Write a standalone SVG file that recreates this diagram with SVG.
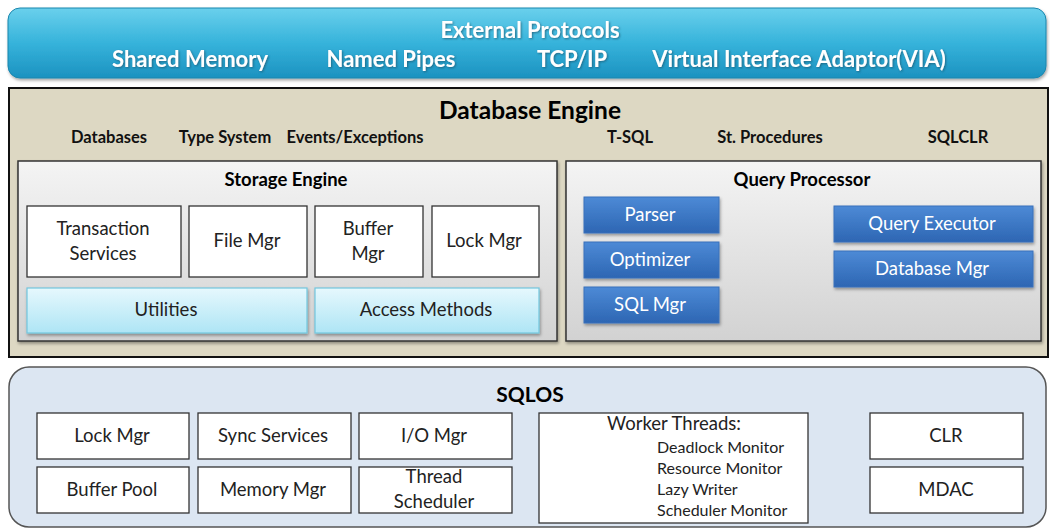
<svg xmlns="http://www.w3.org/2000/svg" width="1050" height="529" viewBox="0 0 1050 529">
<defs>
<linearGradient id="gTop" x1="0" y1="0" x2="0" y2="1">
<stop offset="0" stop-color="#6ad0ec"/><stop offset="0.5" stop-color="#36b3db"/><stop offset="1" stop-color="#1c92c0"/>
</linearGradient>
<linearGradient id="gGray" x1="0" y1="0" x2="0" y2="1">
<stop offset="0" stop-color="#f4f4f4"/><stop offset="1" stop-color="#d2d2d2"/>
</linearGradient>
<linearGradient id="gBlue" x1="0" y1="0" x2="0" y2="1">
<stop offset="0" stop-color="#4d8ad6"/><stop offset="1" stop-color="#2d66b3"/>
</linearGradient>
<linearGradient id="gCyan" x1="0" y1="0" x2="0" y2="1">
<stop offset="0" stop-color="#e6f8fd"/><stop offset="1" stop-color="#aee5f5"/>
</linearGradient>
<filter id="sh" x="-10%" y="-20%" width="120%" height="150%">
<feDropShadow dx="1" dy="2" stdDeviation="1.5" flood-color="#000" flood-opacity="0.35"/>
</filter>
<filter id="tsh" x="-5%" y="-20%" width="110%" height="150%">
<feDropShadow dx="1" dy="1" stdDeviation="0.8" flood-color="#1a4f66" flood-opacity="0.7"/>
</filter>
</defs>
<style>
text{font-family:Lato,"Liberation Sans",sans-serif;text-anchor:middle;}
.w{fill:#fff;font-weight:bold;font-size:22px;}
.h{fill:#000;font-weight:bold;}
.lbl{font-size:16.5px;font-weight:bold;fill:#111;}
.box{fill:#fff;stroke:#333;stroke-width:1.3;}
.t{font-size:18.5px;fill:#222;}
.bt{font-size:18.5px;fill:#fff;}
.blue{fill:url(#gBlue);stroke:#3a70bb;stroke-width:1;}
.cyan{fill:url(#gCyan);stroke:#72c6de;stroke-width:1.2;}
.sub{font-size:16px;fill:#222;text-anchor:start;}
</style>

<g id="external-protocols">
<rect x="8" y="8" width="1038" height="70" rx="12" fill="url(#gTop)" stroke="#1b86ad" stroke-width="1" filter="url(#sh)"/>
<text class="w" x="530" y="38" filter="url(#tsh)">External Protocols</text>
<text class="w" x="190" y="67" filter="url(#tsh)">Shared Memory</text>
<text class="w" x="391" y="67" filter="url(#tsh)">Named Pipes</text>
<text class="w" x="572" y="67" filter="url(#tsh)">TCP/IP</text>
<text class="w" x="799" y="67" filter="url(#tsh)">Virtual Interface Adaptor(VIA)</text>
</g>

<g id="database-engine">
<rect x="9" y="88" width="1039" height="269" fill="#ddd8c3" stroke="#111" stroke-width="2"/>
<text class="h" x="530" y="119" font-size="24.5">Database Engine</text>
<text class="lbl" x="109" y="143">Databases</text>
<text class="lbl" x="225" y="143">Type System</text>
<text class="lbl" x="355" y="143">Events/Exceptions</text>
<text class="lbl" x="630" y="143">T-SQL</text>
<text class="lbl" x="770" y="143">St. Procedures</text>
<text class="lbl" x="958" y="143">SQLCLR</text>
</g>

<g id="storage-engine">
<rect x="18" y="161" width="539" height="180" fill="url(#gGray)" stroke="#333" stroke-width="1.5" filter="url(#sh)"/>
<text class="h" x="286" y="186" font-size="18.5">Storage Engine</text>
</g>
<g id="transaction-services">
<rect class="box" x="27" y="206" width="154" height="71"/>
<text class="t" x="103" y="235">Transaction</text>
<text class="t" x="103" y="260">Services</text>
</g>
<g id="file-mgr">
<rect class="box" x="189" y="206" width="118" height="71"/>
<text class="t" x="247" y="247">File Mgr</text>
</g>
<g id="buffer-mgr">
<rect class="box" x="315" y="206" width="108" height="71"/>
<text class="t" x="368" y="235">Buffer</text>
<text class="t" x="368" y="260">Mgr</text>
</g>
<g id="lock-mgr-se">
<rect class="box" x="432" y="206" width="107" height="71"/>
<text class="t" x="484" y="247">Lock Mgr</text>
</g>
<g id="utilities">
<rect class="cyan" x="27" y="288" width="280" height="45" filter="url(#sh)"/>
<text class="t" x="166" y="316">Utilities</text>
</g>
<g id="access-methods">
<rect class="cyan" x="315" y="288" width="224" height="45" filter="url(#sh)"/>
<text class="t" x="426" y="316">Access Methods</text>
</g>

<g id="query-processor">
<rect x="566" y="161" width="475" height="180" fill="url(#gGray)" stroke="#333" stroke-width="1.5" filter="url(#sh)"/>
<text class="h" x="802" y="186" font-size="18.5">Query Processor</text>
</g>
<g id="parser">
<rect class="blue" x="584" y="197" width="135" height="36" filter="url(#sh)"/>
<text class="bt" x="650" y="221">Parser</text>
</g>
<g id="optimizer">
<rect class="blue" x="584" y="242" width="135" height="36" filter="url(#sh)"/>
<text class="bt" x="650" y="266">Optimizer</text>
</g>
<g id="sql-mgr">
<rect class="blue" x="584" y="287" width="135" height="36" filter="url(#sh)"/>
<text class="bt" x="650" y="311">SQL Mgr</text>
</g>
<g id="query-executor">
<rect class="blue" x="834" y="206" width="199" height="36" filter="url(#sh)"/>
<text class="bt" x="932" y="230">Query Executor</text>
</g>
<g id="database-mgr">
<rect class="blue" x="834" y="251" width="199" height="36" filter="url(#sh)"/>
<text class="bt" x="932" y="275">Database Mgr</text>
</g>

<g id="sqlos">
<rect x="9" y="367" width="1037" height="160" rx="20" fill="#dce6f2" stroke="#555" stroke-width="1.5"/>
<text class="h" x="530" y="402" font-size="21">SQLOS</text>
</g>
<g id="lock-mgr-os">
<rect class="box" x="37" y="413" width="152" height="46"/>
<text class="t" x="112" y="442">Lock Mgr</text>
</g>
<g id="sync-services">
<rect class="box" x="198" y="413" width="153" height="46"/>
<text class="t" x="273" y="442">Sync Services</text>
</g>
<g id="io-mgr">
<rect class="box" x="359" y="413" width="153" height="46"/>
<text class="t" x="434" y="442">I/O Mgr</text>
</g>
<g id="buffer-pool">
<rect class="box" x="37" y="467" width="152" height="46"/>
<text class="t" x="112" y="496">Buffer Pool</text>
</g>
<g id="memory-mgr">
<rect class="box" x="198" y="467" width="153" height="46"/>
<text class="t" x="273" y="496">Memory Mgr</text>
</g>
<g id="thread-scheduler">
<rect class="box" x="359" y="467" width="153" height="46"/>
<text class="t" x="434" y="483">Thread</text>
<text class="t" x="434" y="508">Scheduler</text>
</g>
<g id="worker-threads">
<rect class="box" x="539" y="413" width="269" height="110"/>
<text class="t" x="674" y="430">Worker  Threads:</text>
<text class="sub" x="657" y="453">Deadlock Monitor</text>
<text class="sub" x="657" y="474">Resource Monitor</text>
<text class="sub" x="657" y="495">Lazy Writer</text>
<text class="sub" x="657" y="516">Scheduler Monitor</text>
</g>
<g id="clr">
<rect class="box" x="870" y="413" width="153" height="46"/>
<text class="t" x="946" y="442">CLR</text>
</g>
<g id="mdac">
<rect class="box" x="870" y="467" width="153" height="46"/>
<text class="t" x="946" y="496">MDAC</text>
</g>
<g id="connectors"/>
</svg>
